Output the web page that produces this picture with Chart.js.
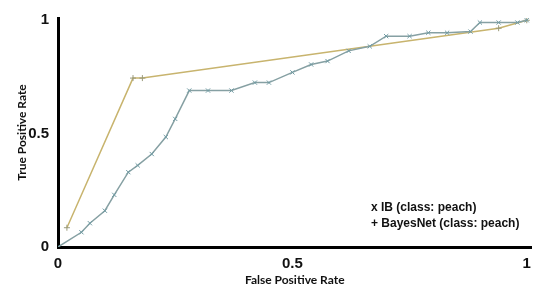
<!DOCTYPE html>
<html>
<head>
<meta charset="utf-8">
<script src="https://cdn.jsdelivr.net/npm/chart.js@4"></script>
<style>
  html, body { margin: 0; padding: 0; background: #fff; }
  #wrap { width: 539px; height: 289px; position: relative; }
</style>
</head>
<body>
<div id="wrap"><canvas id="roc"></canvas></div>
<script>
// ROC points (false positive rate, true positive rate)
const ibFpr = [0, 0.05, 0.068, 0.10, 0.12, 0.15, 0.17, 0.20, 0.23, 0.25, 0.28, 0.32, 0.37, 0.42, 0.45, 0.50, 0.54, 0.575, 0.62, 0.665, 0.70, 0.75, 0.79, 0.83, 0.88, 0.90, 0.94, 0.98, 1.0];
const ibTpr = [0, 0.065, 0.105, 0.16, 0.23, 0.33, 0.36, 0.41, 0.485, 0.565, 0.69, 0.69, 0.69, 0.725, 0.725, 0.77, 0.805, 0.82, 0.865, 0.885, 0.93, 0.93, 0.945, 0.945, 0.95, 0.99, 0.99, 0.99, 1.0];
const bnFpr = [0.019, 0.16, 0.18, 0.94, 1.0];
const bnTpr = [0.085, 0.745, 0.745, 0.965, 1.0];

const axisTicks = [0, 0.5, 1];
const axisTickLabels = ['0', '0.5', '1'];
const legendLines = ['x IB (class: peach)', '+ BayesNet (class: peach)'];

const toPoints = (xs, ys) => xs.map((x, i) => ({ x: x, y: ys[i] }));

// legend is plain text inside the plot, no swatches
const textLegend = {
  id: 'textLegend',
  afterDraw(chart) {
    const ctx = chart.ctx;
    ctx.save();
    ctx.fillStyle = '#111';
    ctx.font = 'bold 12px "Liberation Sans", Arial, sans-serif';
    ctx.textBaseline = 'middle';
    legendLines.forEach((t, i) => ctx.fillText(t, 371, 208 + i * 16));
    ctx.restore();
  }
};

const fixedTicks = scale => { scale.ticks = axisTicks.map(v => ({ value: v })); };
const tickLabel = v => axisTickLabels[axisTicks.indexOf(v)];
const tickFont = { family: '"Liberation Sans", Arial, sans-serif', size: 15, weight: 'bold' };
const titleFont = { family: 'Lato, "Open Sans", sans-serif', size: 12, weight: 'bold' };

new Chart(document.getElementById('roc'), {
  type: 'line',
  data: {
    datasets: [
      {
        label: 'IB (class: peach)',
        data: toPoints(ibFpr, ibTpr),
        borderColor: '#86a0a3',
        borderWidth: 1.5,
        pointStyle: 'crossRot',
        pointRadius: 3,
        pointBorderColor: '#6f9aa2',
        pointBorderWidth: 1,
        tension: 0
      },
      {
        label: 'BayesNet (class: peach)',
        data: toPoints(bnFpr, bnTpr),
        borderColor: '#c8b46e',
        borderWidth: 1.5,
        pointStyle: 'cross',
        pointRadius: 3,
        pointBorderColor: '#9a9a7a',
        pointBorderWidth: 1,
        tension: 0
      }
    ]
  },
  options: {
    responsive: true,
    maintainAspectRatio: false,
    animation: false,
    layout: { padding: { top: 7, right: 4, left: 0, bottom: 0 } },
    plugins: { legend: { display: false }, tooltip: { enabled: false } },
    scales: {
      x: {
        type: 'linear',
        min: 0,
        max: 1.01,
        afterBuildTicks: fixedTicks,
        afterFit: s => { s.height = 42; },
        grid: { display: false, drawTicks: false },
        border: { display: true, color: '#000', width: 3 },
        ticks: { color: '#111', font: tickFont, padding: 8, callback: tickLabel },
        title: { display: true, text: 'False Positive Rate', color: '#111', font: titleFont, padding: { top: 0, bottom: 2 } }
      },
      y: {
        type: 'linear',
        min: 0,
        max: 1.01,
        afterBuildTicks: fixedTicks,
        afterFit: s => { s.width = 58; },
        grid: { display: false, drawTicks: false },
        border: { display: true, color: '#000', width: 3 },
        ticks: { color: '#111', font: tickFont, padding: 9, callback: tickLabel },
        title: { display: true, text: 'True Positive Rate', color: '#111', font: titleFont, padding: { top: 15, bottom: 0 } }
      }
    }
  },
  plugins: [textLegend]
});
</script>
</body>
</html>
